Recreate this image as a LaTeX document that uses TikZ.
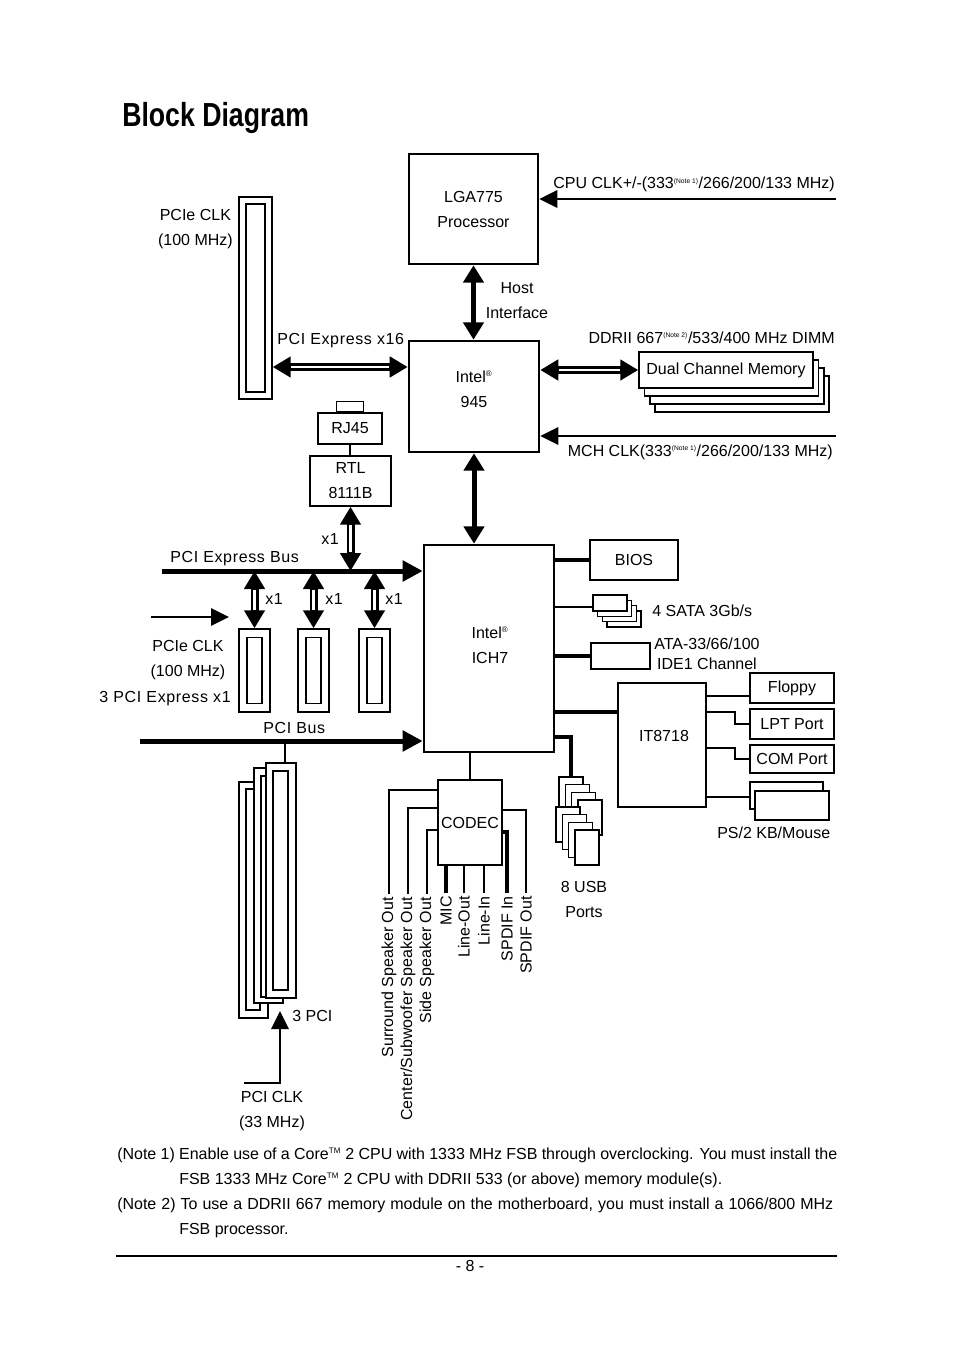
\documentclass[tikz,border=0pt]{standalone}
\usepackage{fontspec}
\setmainfont{Liberation Sans}
\newfontfamily\titlefont{Liberation Sans}[FakeStretch=0.8]
\newfontfamily\widefont{Liberation Sans}[LetterSpace=4]
\usetikzlibrary{arrows.meta}

\newcommand{\notemark}[1]{\textsuperscript{\fontsize{5}{5}\selectfont(Note #1)}}
\newcommand{\regmark}{\textsuperscript{\fontsize{6}{6}\selectfont\textregistered}}
\newcommand{\tmmark}{\textsuperscript{\fontsize{6}{6}\selectfont TM}}

\tikzset{
  chip/.style={draw, line width=1.9pt, inner sep=0, align=center},
  box/.style={draw, fill=white, line width=1.1pt, inner sep=0, align=center},
  txt/.style={inner sep=0},
  vtxt/.style={rotate=90, anchor=east, inner sep=0, outer sep=2.5pt},
  conn/.style={draw, line width=1.6pt},
  heavy/.style={draw, line width=3pt},
  clk/.style={draw, line width=1.5pt, -{Triangle[length=13.5pt,width=13pt]}},
  bus/.style={draw, line width=3.75pt, -{Triangle[length=15pt,width=15pt]}},
  link/.style={draw, line width=3.75pt, {Triangle[length=13pt,width=15pt]}-{Triangle[length=13pt,width=15pt]}},
  dbl/.style={draw, line width=6pt, {Triangle[length=13.5pt,width=15pt]}-{Triangle[length=13.5pt,width=15pt]},
    postaction={draw=white, line width=2pt, -, shorten <=14pt, shorten >=14pt}}
}

\begin{document}
\begin{tikzpicture}[x=0.75pt, y=-0.75pt, font=\fontsize{12}{18.75}\selectfont]
\useasboundingbox (0,0) rectangle (954,1352);

\node[txt, anchor=base west, font=\titlefont\bfseries\fontsize{25}{30}\selectfont] (title) at (122,127) {Block Diagram};

% processor and north bridge
\node[chip, minimum width=96.75pt, minimum height=82.5pt] (cpu) at (473.5,209) {LGA775\\Processor};
\node[chip, minimum width=97.5pt, minimum height=83.25pt] (nb) at (474,396.5) {};
\node[txt, align=center] (nbtxt) at (474,389) {Intel\regmark\\945};

\coordinate (cpuclk) at (836,199);
\draw[clk] (cpuclk) -- (cpuclk -| cpu.east);
\node[txt, anchor=base east] (cpuclklbl) at (835,189) {CPU CLK+/-(333\notemark{1}/266/200/133 MHz)};

\draw[link] (cpu.south) -- (cpu.south |- nb.north);
\node[txt, align=center] (hostlbl) at (517,301) {Host\\Interface};

% memory
\node[txt, anchor=base east] (dimmlbl) at (835,343) {DDRII 667\notemark{2}/533/400 MHz DIMM};
\node[box, minimum width=130.5pt, minimum height=27pt] (mem4) at (742,394) {};
\node[box, minimum width=130.5pt, minimum height=27pt] (mem3) at (737,386) {};
\node[box, minimum width=130.5pt, minimum height=27pt] (mem2) at (731.5,378) {};
\node[box, minimum width=130.5pt, minimum height=27pt] (mem1) at (726,370) {Dual Channel Memory};
\draw[dbl] (nb.east |- mem1.west) -- (mem1.west);

\coordinate (mchclk) at (836,436);
\draw[clk] (mchclk) -- (mchclk -| nb.east);
\node[txt, anchor=base east] (mchclklbl) at (833,456) {MCH CLK(333\notemark{1}/266/200/133 MHz)};

% PCI Express x16
\node[box, minimum width=24.75pt, minimum height=151.5pt] (x16) at (255.5,298) {};
\node[box, minimum width=14.25pt, minimum height=141pt] (x16in) at (x16.center) {};
\node[txt, align=center, anchor=east] (x16clk) at (233,229) {PCIe CLK\\(100 MHz)};
\node[txt, anchor=base west] (x16lbl) at (277,344) {\widefont PCI Express x16};
\draw[dbl] (x16.east |- 0,367) -- (nb.west |- 0,367);

% LAN
\node[box, minimum width=48pt, minimum height=23.25pt] (rj45) at (350,428.5) {RJ45};
\node[box, minimum width=20.25pt, minimum height=7.5pt, anchor=south] (rjtab) at (rj45.north) {};
\node[box, minimum width=60.75pt, minimum height=37.5pt] (rtl) at (350.5,481) {RTL\\8111B};
\draw[conn] (rj45.south) -- (rj45.south |- rtl.north);

% south bridge
\node[chip, minimum width=97.5pt, minimum height=155.25pt] (ich) at (489,648.5) {};
\node[txt, align=center] (ichtxt) at (490,645) {Intel\regmark\\ICH7};
\draw[link] (nb.south) -- (nb.south |- ich.north);

% PCI Express bus and x1 slots
\coordinate (pcie) at (162,571);
\draw[bus] (pcie) -- (pcie -| ich.west);
\node[txt, anchor=base west] (pcielbl) at (170,562) {\widefont PCI Express Bus};
\draw[dbl] (rtl.south) -- (rtl.south |- pcie);
\node[txt, anchor=base west] (rtlx1) at (321,544) {\widefont x1};

\node[box, minimum width=23.25pt, minimum height=62.25pt] (x1a) at (254.5,670.5) {};
\node[box, minimum width=11.25pt, minimum height=49.5pt] (x1ain) at (x1a.center) {};
\node[box, minimum width=23.25pt, minimum height=62.25pt] (x1b) at (313.5,670.5) {};
\node[box, minimum width=11.25pt, minimum height=49.5pt] (x1bin) at (x1b.center) {};
\node[box, minimum width=23.25pt, minimum height=62.25pt] (x1c) at (374.5,670.5) {};
\node[box, minimum width=11.25pt, minimum height=49.5pt] (x1cin) at (x1c.center) {};
\draw[dbl] (x1a.north |- pcie) -- (x1a.north);
\draw[dbl] (x1b.north |- pcie) -- (x1b.north);
\draw[dbl] (x1c.north |- pcie) -- (x1c.north);
\node[txt, anchor=base west] (x1alb) at (265,604) {\widefont x1};
\node[txt, anchor=base west] (x1blb) at (325,604) {\widefont x1};
\node[txt, anchor=base west] (x1clb) at (385,604) {\widefont x1};

\coordinate (x1clkin) at (151,617);
\coordinate (x1clkout) at (229,617);
\draw[clk] (x1clkin) -- (x1clkout);
\node[txt, align=center] (x1clk) at (188,660) {PCIe CLK\\(100 MHz)};
\node[txt, anchor=base east] (x1lbl) at (231,702) {\widefont 3 PCI Express x1};

% PCI bus and slots
\coordinate (pci) at (140,741);
\draw[bus] (pci) -- (pci -| ich.west);
\node[txt, anchor=base west] (pcilbl) at (263,733) {\widefont PCI Bus};
\coordinate (pcitap) at (285,741);

\node[box, minimum width=21.75pt, minimum height=177pt] (pcia) at (253.5,900) {};
\node[box, minimum width=10.5pt, minimum height=165.75pt] (pciain) at (253,899.5) {};
\node[box, minimum width=21.75pt, minimum height=176.25pt] (pcib) at (268.5,885.5) {};
\node[box, minimum width=11.25pt, minimum height=165.75pt] (pcibin) at (268.5,886.5) {};
\node[box, minimum width=22.5pt, minimum height=176.25pt] (pcic) at (281,880.5) {};
\node[box, minimum width=11.25pt, minimum height=164.25pt] (pcicin) at (280.5,880.5) {};
\draw[conn] (pcitap) -- (pcitap |- pcic.north);
\node[txt, anchor=base west] (pcislots) at (292,1021) {3 PCI};

\coordinate (pciclk) at (244,1083);
\coordinate (pcitip) at (280,1011);
\draw[clk] (pciclk) -| (pcitip);
\node[txt, align=center] (pciclklbl) at (272,1111) {PCI CLK\\(33 MHz)};

% devices on the south bridge
\node[box, minimum width=66pt, minimum height=30pt] (bios) at (634,560) {BIOS};
\draw[heavy] (ich.east |- bios) -- (bios.west);

\node[box, minimum width=25.5pt, minimum height=12pt] (sata4) at (624.1,618.9) {};
\node[box, minimum width=25.5pt, minimum height=12pt] (sata3) at (619.4,613.6) {};
\node[box, minimum width=25.5pt, minimum height=12pt] (sata2) at (614.7,608.3) {};
\node[box, minimum width=25.5pt, minimum height=12pt] (sata1) at (610,603) {};
\draw[conn] (ich.east |- 0,607) -- (sata1.west |- 0,607);
\node[txt, anchor=base west] (satalbl) at (652,616) {4 SATA 3Gb/s};

\node[box, minimum width=44.25pt, minimum height=19.5pt] (ide) at (620.5,656) {};
\draw[heavy] (ich.east |- ide) -- (ide.west);
\node[txt, anchor=base] (idelbl) at (707,649) {ATA-33/66/100};
\node[txt, anchor=base] (idelblb) at (707,669) {IDE1 Channel};

% super I/O
\node[box, minimum width=66pt, minimum height=93pt] (sio) at (662,745) {};
\node[txt] (siotxt) at (664,736) {IT8718};
\draw[heavy] (ich.east |- 0,712) -- (sio.west |- 0,712);

\node[box, minimum width=63pt, minimum height=22.5pt] (floppy) at (792,688) {Floppy};
\node[box, minimum width=63pt, minimum height=22.5pt] (lpt) at (792,724) {LPT Port};
\node[box, minimum width=63pt, minimum height=21pt] (com) at (792,759) {COM Port};
\node[box, minimum width=54.75pt, minimum height=20.25pt] (kbd) at (786.5,795.5) {};
\node[box, minimum width=55.5pt, minimum height=21.75pt] (mouse) at (792,805.5) {};
\draw[conn] (sio.east |- 0,696) -- (floppy.west |- 0,696);
\draw[conn] (sio.east |- 0,712) -| (735,724) -- (lpt.west);
\draw[conn] (sio.east |- 0,748) -| (735,759) -- (com.west);
\draw[conn] (sio.east |- 0,797) -- (kbd.west |- 0,797);
\node[txt, anchor=base west] (ps2lbl) at (717,838) {PS/2 KB/Mouse};

% USB
\node[box, minimum width=18pt, minimum height=26.25pt] (usb1) at (571,794.5) {};
\node[box, minimum width=18pt, minimum height=26.25pt] (usb2) at (577.3,802.2) {};
\node[box, minimum width=18pt, minimum height=26.25pt] (usb3) at (583.6,809.9) {};
\node[box, minimum width=18pt, minimum height=26.25pt] (usb4) at (589.9,817.6) {};
\node[box, minimum width=18pt, minimum height=26.25pt] (usb5) at (568,824.5) {};
\node[box, minimum width=18pt, minimum height=26.25pt] (usb6) at (574.3,832.2) {};
\node[box, minimum width=18pt, minimum height=26.25pt] (usb7) at (580.6,839.9) {};
\node[box, minimum width=18pt, minimum height=26.25pt] (usb8) at (586.9,847.6) {};
\draw[heavy] (ich.east |- 0,737) -| (usb1.north);
\node[txt, align=center] (usblbl) at (584,899) {8 USB\\Ports};

% audio
\node[box, minimum width=48pt, minimum height=63.75pt] (codec) at (470,822.5) {CODEC};
\draw[conn] (codec.north) -- (codec.north |- ich.south);

\node[vtxt] (surr) at (389,894) {Surround Speaker Out};
\node[vtxt] (cent) at (408,894) {Center/Subwoofer Speaker Out};
\node[vtxt] (side) at (427,894) {Side Speaker Out};
\node[vtxt] (mic) at (446,893) {MIC};
\node[vtxt] (lout) at (464,893) {Line-Out};
\node[vtxt] (lin) at (484,893) {Line-In};
\node[vtxt] (spdin) at (507,893) {SPDIF In};
\node[vtxt] (spdout) at (526,893) {SPDIF Out};
\draw[conn] (codec.west |- 0,790) -| (surr.east);
\draw[conn] (codec.west |- 0,808) -| (cent.east);
\draw[conn] (codec.west |- 0,830) -| (side.east);
\draw[heavy] (codec.south -| mic.east) -- (mic.east);
\draw[conn] (codec.south -| lout.east) -- (lout.east);
\draw[conn] (codec.south -| lin.east) -- (lin.east);
\draw[heavy] (codec.east |- 0,832) -| (spdin.east);
\draw[conn] (codec.east |- 0,810) -| (spdout.east);

% notes
\node[txt, anchor=base west] (note1) at (117,1159) {\makebox[540pt][s]{(Note 1) Enable use of a Core\tmmark{} 2 CPU with 1333 MHz FSB through overclocking. You must install the}};
\node[txt, anchor=base west] (note1b) at (179,1184) {FSB 1333 MHz Core\tmmark{} 2 CPU with DDRII 533 (or above) memory module(s).};
\node[txt, anchor=base west] (note2) at (117,1209) {\makebox[537pt][s]{(Note 2) To use a DDRII 667 memory module on the motherboard, you must install a 1066/800 MHz}};
\node[txt, anchor=base west] (note2b) at (179,1234) {FSB processor.};

\coordinate (rulel) at (116,1256);
\coordinate (ruler) at (837,1256);
\draw[line width=1.9pt] (rulel) -- (ruler);
\node[txt, anchor=base] (page) at (470,1271) {- 8 -};

\end{tikzpicture}
\end{document}
